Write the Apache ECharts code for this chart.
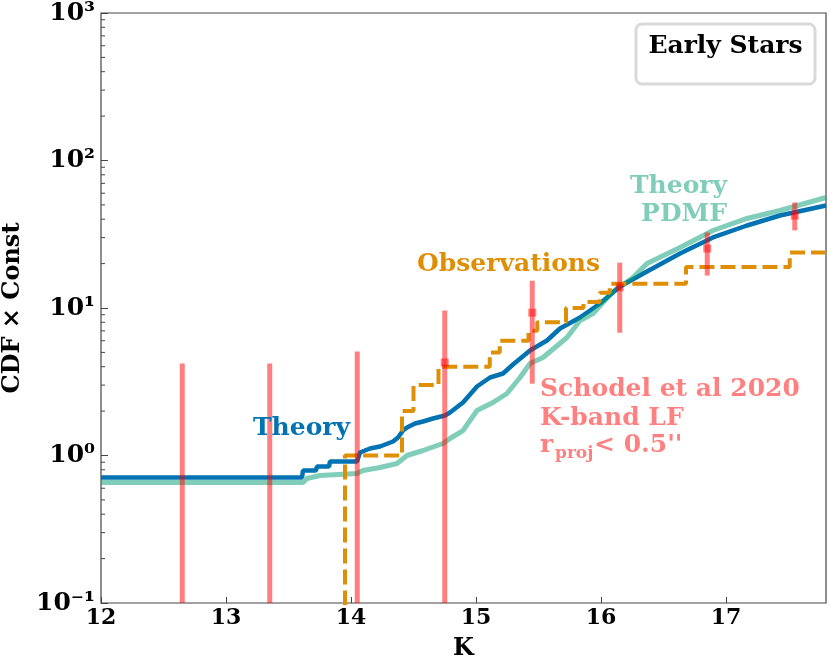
<!DOCTYPE html>
<html>
<head>
<meta charset="utf-8">
<script src="https://cdn.jsdelivr.net/npm/echarts/dist/echarts.min.js"></script>
<style>
html,body{margin:0;padding:0;background:#fff;}
#main{width:830px;height:664px;}
</style>
</head>
<body>
<div id="main"></div>
<script>
// ---- data ----
const theoryK   = [12.00,13.608,13.616,13.72,13.728,13.824,13.832,14.048,14.072,14.152,14.232,14.336,14.376,14.416,14.448,14.512,14.576,14.656,14.752,14.792,14.896,14.952,15.008,15.112,15.216,15.296,15.432,15.568,15.672,15.832,15.992,16.152,16.368,16.632,16.896,17.168,17.432,17.80];
const theoryVal = [0.709,0.709,0.791,0.791,0.842,0.842,0.911,0.911,1.048,1.116,1.151,1.244,1.325,1.477,1.548,1.648,1.70,1.782,1.867,1.957,2.288,2.592,2.936,3.379,3.596,4.14,5.15,6.02,7.26,8.62,10.73,13.99,17.68,23.42,30.06,36.25,42.38,49.53];

const pdmfK   = [12.00,13.616,13.648,13.752,14.048,14.096,14.232,14.368,14.448,14.576,14.736,14.792,14.896,14.952,15.008,15.136,15.248,15.352,15.432,15.536,15.728,15.832,15.936,16.096,16.256,16.368,16.632,16.896,17.168,17.432,17.80];
const pdmfVal = [0.656,0.656,0.698,0.732,0.755,0.791,0.829,0.883,1.0,1.081,1.206,1.304,1.477,1.727,2.019,2.288,2.633,3.379,4.205,4.617,6.31,8.23,9.18,12.94,16.1,20.03,25.72,33.53,40.45,45.81,56.13];

const obsK   = [13.952,13.952,14.408,14.50,14.70,15.11,15.19,15.42,15.49,15.72,15.86,15.99,16.07,16.68,17.51,17.80];
const obsVal = [0.05,1,2,3,4,5,6,7,8,10,11,12.7,14.6,19,23.8,23.8];

const lfK     = [12.65,13.35,14.05,14.75,15.45,16.15,16.85,17.55];
const lfVal   = [null,null,null,4.27,9.3,13.8,25.3,42.3];
const lfLow   = [0.01,0.01,0.01,0.01,3.07,6.8,16.6,33.6];
const lfHigh  = [4.2,4.2,5.07,9.6,15.3,20.3,32.5,52];

const xTicks = [12,13,14,15,16,17];
const yTickLabels = {'-1':'10\u207b\u00b9', '0':'10\u2070', '1':'10\u00b9', '2':'10\u00b2', '3':'10\u00b3'};
const minorFactors = [2,3,4,5,6,7,8,9];
const minorDecades = [0.1,1,10,100];

// ---- build ----
const zip = (a,b) => a.map((v,i)=>[v,b[i]]);
const minorVals = [];
minorDecades.forEach(d => minorFactors.forEach(f => minorVals.push(+(d*f).toPrecision(3))));

const serif = 'DejaVu Serif';
const chart = echarts.init(document.getElementById('main'), null, {renderer:'canvas'});
const annFont = 'bold 25px "DejaVu Serif"';

const option = {
  animation:false,
  backgroundColor:'#fff',
  grid:{left:101, right:4, top:13, bottom:61, containLabel:false, outerBoundsMode:'none',
        show:true, borderColor:'#444', borderWidth:1.2, backgroundColor:'transparent'},
  xAxis:{
    type:'value', min:12, max:17.8, interval:1,
    axisLine:{show:false},
    axisTick:{show:true, inside:true, length:6, lineStyle:{color:'#444', width:1}},
    splitLine:{show:false},
    axisLabel:{
      showMaxLabel:false, margin:4, color:'#000',
      fontFamily:serif, fontWeight:'bold', fontSize:22,
      formatter: v => xTicks.indexOf(v) >= 0 ? String(v) : ''
    },
    name:'K', nameLocation:'middle', nameGap:34,
    nameTextStyle:{fontFamily:serif, fontWeight:'bold', fontSize:24, color:'#000'}
  },
  yAxis:{
    type:'log', logBase:10, min:0.1, max:1000,
    axisLine:{show:false},
    axisTick:{show:true, inside:true, length:7, lineStyle:{color:'#444', width:1}},
    splitLine:{show:false},
    axisLabel:{
      margin:6, color:'#000', align:'right',
      fontFamily:serif, fontWeight:'bold', fontSize:25,
      formatter: v => {
        const e = String(Math.round(Math.log10(v)));
        return yTickLabels[e] || '';
      }
    },
    name:'CDF \u00d7 Const', nameLocation:'middle', nameGap:75, nameRotate:90,
    nameTextStyle:{fontFamily:serif, fontWeight:'bold', fontSize:24, color:'#000'}
  },
  series:[
    {
      type:'custom', name:'minorTicks', silent:true, z:1,
      data: minorVals.map(v => [12, v]),
      renderItem:(params, api) => {
        const p = api.coord([api.value(0), api.value(1)]);
        return {type:'line', shape:{x1:p[0], y1:p[1], x2:p[0]+4, y2:p[1]}, style:{stroke:'#444', lineWidth:1}};
      }
    },
    {
      type:'line', name:'Theory', data: zip(theoryK, theoryVal), showSymbol:false, symbol:'none',
      lineStyle:{color:'#0173b2', width:4.5}, z:3
    },
    {
      type:'line', name:'Theory PDMF', data: zip(pdmfK, pdmfVal), showSymbol:false, symbol:'none',
      lineStyle:{color:'#029e73', width:5, opacity:0.5}, z:4
    },
    {
      type:'line', name:'Observations', data: zip(obsK, obsVal), step:'end', showSymbol:false, symbol:'none',
      lineStyle:{color:'#de8f05', width:4, type:[15,6]}, z:5
    },
    {
      type:'custom', name:'LF err', clip:true, z:6,
      data: lfK.map((k,i)=>[k, lfLow[i], lfHigh[i]]),
      renderItem:(params, api) => {
        const a = api.coord([api.value(0), api.value(1)]);
        const b = api.coord([api.value(0), api.value(2)]);
        return {type:'line', shape:{x1:a[0], y1:a[1], x2:b[0], y2:b[1]}, style:{stroke:'rgba(255,0,0,0.5)', lineWidth:5}};
      }
    },
    {
      type:'scatter', name:'LF', symbol:'rect', symbolSize:8, z:7,
      data: lfK.map((k,i)=>[k, lfVal[i]]).filter(d => d[1] != null),
      itemStyle:{color:'rgba(255,0,0,0.6)'}
    }
  ],
  graphic:[
    {type:'rect', shape:{x:636, y:24, width:179, height:60, r:6}, style:{fill:'#fff', stroke:'#d9d9d9', lineWidth:3}, z:100},
    {type:'text', x:725.5, y:46, z:101, style:{text:'Early Stars', font:annFont, fill:'#000', align:'center', verticalAlign:'middle'}},
    {type:'text', x:253, y:428, z:101, style:{text:'Theory', font:annFont, fill:'#0173b2', align:'left', verticalAlign:'middle'}},
    {type:'text', x:417, y:264, z:101, style:{text:'Observations', font:annFont, fill:'#de8f05', align:'left', verticalAlign:'middle'}},
    {type:'text', x:727, y:186, z:101, style:{text:'Theory', font:annFont, fill:'#80ceb9', align:'right', verticalAlign:'middle'}},
    {type:'text', x:727, y:214, z:101, style:{text:'PDMF', font:annFont, fill:'#80ceb9', align:'right', verticalAlign:'middle'}},
    {type:'text', x:540, y:389, z:101, style:{text:'Schodel et al 2020', font:annFont, fill:'#ff8080', align:'left', verticalAlign:'middle'}},
    {type:'text', x:540, y:418, z:101, style:{text:'K-band LF', font:annFont, fill:'#ff8080', align:'left', verticalAlign:'middle'}},
    {type:'text', x:540, y:445, z:101, style:{text:'r', font:annFont, fill:'#ff8080', align:'left', verticalAlign:'middle'}},
    {type:'text', x:555, y:454, z:101, style:{text:'proj', font:'bold 17px "DejaVu Serif"', fill:'#ff8080', align:'left', verticalAlign:'middle'}},
    {type:'text', x:594, y:445, z:101, style:{text:"< 0.5''", font:annFont, fill:'#ff8080', align:'left', verticalAlign:'middle'}}
  ]
};
chart.setOption(option);
</script>
</body>
</html>
